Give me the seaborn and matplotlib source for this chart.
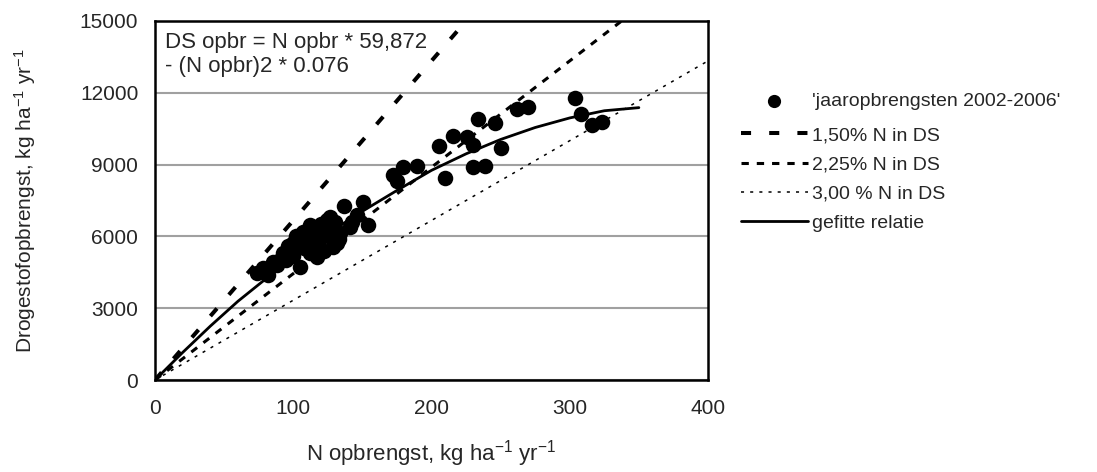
import matplotlib
matplotlib.use("Agg")
import matplotlib.pyplot as plt
import seaborn as sns
import pandas as pd

# ---------------- data ----------------
n_obs = [73.5, 81.9, 78.1, 85.3, 92.5, 99.8, 107.0, 112.0, 126.5, 141.0,
         131.4, 116.9, 104.8, 116.9, 124.2, 90.4, 104.8, 112.0, 124.2, 133.8,
         112.0, 128.9, 88.0, 95.0, 98.0, 100.0, 102.0, 105.0, 108.0, 110.0,
         115.0, 118.0, 120.0, 122.0, 125.0, 130.0, 133.0, 96.0, 114.0, 119.0,
         150.2, 153.8, 136.9, 142.2, 145.8,
         171.9, 175.2, 179.1, 189.2, 205.1, 209.7, 215.7, 225.4, 229.7, 230.2,
         233.3, 238.6, 246.0, 250.2, 261.5, 269.9,
         303.7, 307.8, 315.8, 323.0]
ds_obs = [4460, 4390, 4680, 4950, 5310, 5730, 6200, 6480, 6830, 6410,
          5710, 5150, 4740, 5850, 6270, 5020, 5850, 6410, 6690, 6130,
          5300, 5570, 4800, 5000, 5400, 5200, 6000, 5900, 5500, 6100,
          6300, 5700, 6500, 5400, 6000, 6600, 5900, 5600, 5900, 6150,
          7450, 6480, 7270, 6620, 6900,
          8570, 8330, 8890, 8940, 9780, 8430, 10200, 10140, 8910, 9820,
          10890, 8940, 10750, 9710, 11310, 11420,
          11770, 11100, 10660, 10790]

n_ref = [0, 400]
ds_ref_150 = [0, 26667]
ds_ref_225 = [0, 17778]
ds_ref_300 = [0, 13333]

n_fit = [0, 20, 40, 60, 80, 100, 125, 150, 175, 200, 225, 250, 275, 300, 325, 350]
ds_fit = [0, 1150, 2250, 3290, 4220, 5100, 6120, 7050, 7920, 8760, 9450,
          10050, 10550, 10950, 11250, 11380]

x_ticks = [0, 100, 200, 300, 400]
y_ticks = [0, 3000, 6000, 9000, 12000, 15000]

labels = ["'jaaropbrengsten 2002-2006'", "1,50% N in DS", "2,25% N in DS",
          "3,00 % N in DS", "gefitte relatie"]
annot = "DS opbr = N opbr * 59,872\n- (N opbr)2 * 0.076"
xlabel = "N opbrengst, kg ha$^{-1}$ yr$^{-1}$"
ylabel = "Drogestofopbrengst, kg ha$^{-1}$ yr$^{-1}$"

# ---------------- style ----------------
sns.set_style("white")
font = "Liberation Sans"
plt.rcParams["font.family"] = [font, "DejaVu Sans"]
plt.rcParams["mathtext.fontset"] = "custom"
plt.rcParams["mathtext.rm"] = font
plt.rcParams["mathtext.it"] = font

fig = plt.figure(figsize=(10.97, 4.72), dpi=100)
ax = fig.add_axes([155 / 1097, 92 / 472, 553 / 1097, 359 / 472])

obs = pd.DataFrame({"N": n_obs, "DS": ds_obs})
sns.scatterplot(data=obs, x="N", y="DS", ax=ax, color="black", s=125,
                edgecolor="black", linewidth=0, zorder=4, label=labels[0])

sns.lineplot(x=n_ref, y=ds_ref_150, ax=ax, color="black", linewidth=2.9,
             linestyle=(0, (2.5, 4.5)), label=labels[1], zorder=3)
sns.lineplot(x=n_ref, y=ds_ref_225, ax=ax, color="black", linewidth=2.2,
             linestyle=(0, (2.4, 2.6)), label=labels[2], zorder=3)
sns.lineplot(x=n_ref, y=ds_ref_300, ax=ax, color="black", linewidth=1.1,
             linestyle=(0, (2.0, 4.0)), label=labels[3], zorder=3)
sns.lineplot(x=n_fit, y=ds_fit, ax=ax, color="black", linewidth=2.0,
             label=labels[4], zorder=5)

ax.set_xlim(0, 400)
ax.set_ylim(0, 15000)
ax.set_xticks(x_ticks)
ax.set_yticks(y_ticks)
ax.set_xticklabels([str(t) for t in x_ticks], fontsize=15)
ax.set_yticklabels([str(t) for t in y_ticks], fontsize=15)
ax.tick_params(axis="x", direction="in", length=6, width=1.2, color="black", pad=14)
ax.tick_params(axis="y", length=0, pad=12)
ax.yaxis.grid(True, color="#a0a0a0", linewidth=1.5)
ax.xaxis.grid(False)
ax.set_axisbelow(True)
for sp in ax.spines.values():
    sp.set_visible(True)
    sp.set_color("black")
    sp.set_linewidth(1.8)

ax.set_xlabel(xlabel, fontsize=16, labelpad=14)
ax.set_ylabel(ylabel, fontsize=15, labelpad=30)

ax.text(0.018, 0.97, annot, transform=ax.transAxes, ha="left", va="top",
        fontsize=16, linespacing=1.2)

h, l = ax.get_legend_handles_labels()
leg_kw = dict(bbox_transform=fig.transFigure, frameon=False, prop={"size": 14},
              handlelength=3.45, handletextpad=0.25, labelspacing=0.6,
              markerscale=0.85, loc="upper left")
leg1 = ax.legend(h[:1], l[:1], bbox_to_anchor=(723 / 1097, 1 - 75 / 472), **leg_kw)
ax.add_artist(leg1)
ax.legend(h[1:], l[1:], bbox_to_anchor=(723 / 1097, 1 - 109 / 472), **leg_kw)

fig.savefig("out.png", dpi=100)
